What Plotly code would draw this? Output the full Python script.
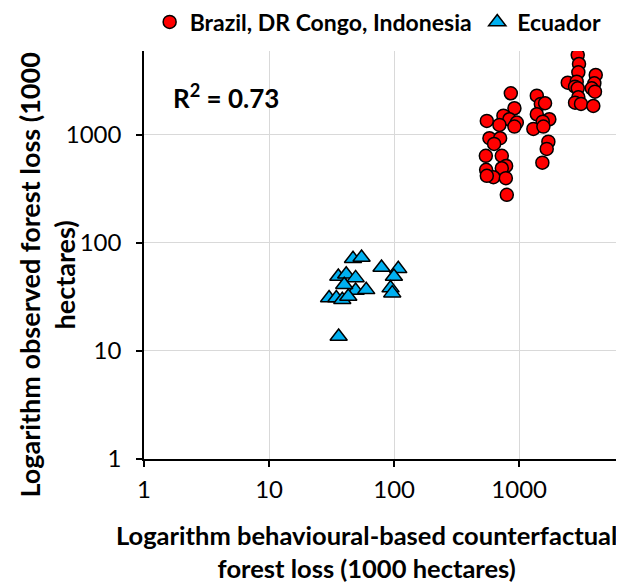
import plotly.graph_objects as go

# Brazil, DR Congo, Indonesia (red circles)
bdi_x = [2938, 3008, 2971, 4093, 2445, 2884, 3990, 2797, 2938, 3802, 4036, 2971, 2797, 3121, 3914,
         857, 1383, 1489, 1610, 916, 551, 748, 835, 695, 957, 916, 1383, 1742, 1543, 1298, 1561,
         578, 704, 630, 1711, 1660, 541, 726, 786, 544, 726, 622, 782, 551, 1532, 796]
bdi_y = [5495, 4539, 3802, 3589, 3048, 3113, 3007, 2798, 2704, 2704, 2517, 2233, 1991, 1936, 1854,
         2430, 2311, 1936, 1965, 1766, 1348, 1509, 1397, 1238, 1300, 1194, 1554, 1397, 1327, 1137, 1194,
         932, 932, 826, 867, 742, 640, 640, 517, 475, 492, 406, 398, 418, 554, 279]

# Ecuador (blue triangles)
ecu_x = [46.9, 54.9, 79.3, 107.9, 99.6, 35.8, 41.4, 49.2, 49.2, 59.8, 93.6, 96.6, 30.2, 34.5, 38.5, 43.0, 39.9, 36.0]
ecu_y = [71.3, 73.3, 59.2, 57.6, 48.9, 48.9, 51.4, 47.5, 36.3, 36.8, 38.2, 34.3, 30.9, 30.9, 29.8, 31.9, 41.0, 13.6]

tick_vals = [1, 10, 100, 1000]
tick_text = ["1", "10", "100", "1000"]

FONT = "Lato"

fig = go.Figure()
fig.add_trace(go.Scatter(
    x=bdi_x, y=bdi_y, mode="markers", name="Brazil, DR Congo, Indonesia", legend="legend",
    marker=dict(symbol="circle", size=13, color="#ff0000", line=dict(color="black", width=1.5)),
))
fig.add_trace(go.Scatter(
    x=ecu_x, y=ecu_y, mode="markers", name="Ecuador", legend="legend2",
    marker=dict(symbol="triangle-up", size=15, color="#00b0f0", line=dict(color="black", width=1.5)),
))

axis_common = dict(
    type="log", showgrid=True, gridcolor="#d9d9d9", gridwidth=1.2,
    showline=True, linecolor="black", linewidth=1.5,
    ticks="outside", ticklen=6, tickcolor="black", tickwidth=1.5,
    tickvals=tick_vals, ticktext=tick_text, zeroline=False,
    tickfont=dict(family=FONT, size=24, color="black"),
    automargin=False,
)

fig.update_xaxes(range=[0, 3.838], ticklabelstandoff=2, **axis_common)
fig.update_yaxes(range=[0, 3.777], ticklabelstandoff=10, **axis_common)

legend_common = dict(
    orientation="h", xref="container", yref="container",
    xanchor="left", y=0.976, yanchor="middle",
    font=dict(family=FONT, size=23, color="black", weight="bold"),
    itemwidth=30, bgcolor="rgba(0,0,0,0)",
)

fig.update_layout(
    width=624, height=582,
    margin=dict(l=135.5, r=8, t=43, b=130.7),
    paper_bgcolor="white", plot_bgcolor="white",
    font=dict(family=FONT, color="black"),
    showlegend=True,
    legend=dict(x=0.227, **legend_common),
    legend2=dict(x=0.752, **legend_common),
    annotations=[
        dict(text="<b>R<sup>2</sup> = 0.73</b>", xref="paper", yref="paper",
             x=0.056, y=0.888, xanchor="left", yanchor="middle", showarrow=False,
             font=dict(family=FONT, size=26, color="black")),
        dict(text="<b>Logarithm observed forest loss (1000<br>hectares)</b>",
             xref="paper", yref="paper", x=-0.203, y=0.451, xanchor="center", yanchor="middle",
             textangle=-90, showarrow=False,
             font=dict(family=FONT, size=27, color="black")),
        dict(text="<b>Logarithm behavioural-based counterfactual<br>forest loss (1000 hectares)</b>",
             xref="paper", yref="paper", x=0.463, y=-0.227, xanchor="center", yanchor="middle",
             showarrow=False,
             font=dict(family=FONT, size=25.5, color="black")),
    ],
)

fig.write_html("out.html")
